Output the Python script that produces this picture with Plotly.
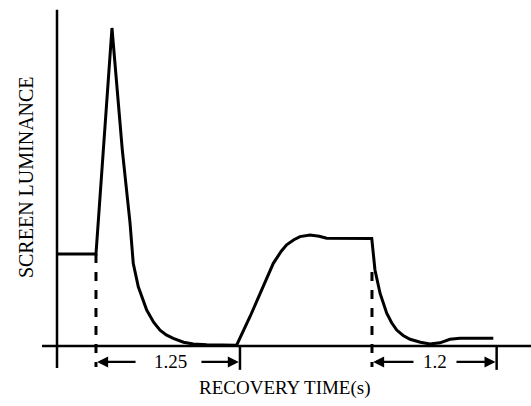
import plotly.graph_objects as go

# Luminance trace (time in s, relative luminance)
time_s = [0.0, 0.339, 0.478, 0.568, 0.635, 0.663, 0.707, 0.745, 0.780, 0.840, 0.896,
          0.950, 1.011, 1.100, 1.185, 1.302, 1.561,
          1.678, 1.794, 1.881, 1.950, 1.997, 2.060, 2.113, 2.200, 2.280, 2.345, 2.737,
          2.750, 2.765, 2.809, 2.867, 2.910, 2.954, 3.010, 3.070, 3.160, 3.243, 3.330,
          3.417, 3.504, 3.794]
luminance = [0.289, 0.289, 1.0, 0.616, 0.387, 0.260, 0.186, 0.145, 0.113, 0.075, 0.050,
             0.035, 0.024, 0.012, 0.006, 0.004, 0.002,
             0.092, 0.186, 0.260, 0.298, 0.318, 0.334, 0.344, 0.349, 0.345, 0.339, 0.338,
             0.292, 0.239, 0.166, 0.103, 0.073, 0.050, 0.033, 0.021, 0.012, 0.006, 0.010,
             0.021, 0.024, 0.024]

# Recovery-interval markers
interval_starts = [0.339, 2.739]
interval_ends = [1.591, 3.823]
interval_labels = ["1.25", "1.2"]
dash_tops = [0.289, 0.233]
label_x = [0.983, 3.287]
left_tails = [0.696, 3.113]
right_tails = [1.243, 3.461]

x_title = "RECOVERY TIME(s)"
y_title = "SCREEN LUMINANCE"

FONT = "Liberation Serif, Times New Roman, serif"
arrow_y = -0.050

fig = go.Figure()
fig.add_trace(go.Scatter(x=time_s, y=luminance, mode="lines",
                         line=dict(color="black", width=3), hoverinfo="skip"))

shapes = []
# axis lines
shapes.append(dict(type="line", xref="x", yref="y", x0=0, x1=0, y0=-0.069, y1=1.057,
                   line=dict(color="black", width=2.5)))
shapes.append(dict(type="line", xref="x", yref="y", x0=-0.13, x1=4.2, y0=0, y1=0,
                   line=dict(color="black", width=2.5)))
for s, e, top in zip(interval_starts, interval_ends, dash_tops):
    shapes.append(dict(type="line", xref="x", yref="y", x0=s, x1=s, y0=top, y1=-0.066,
                       line=dict(color="black", width=3, dash="dash")))
    shapes.append(dict(type="line", xref="x", yref="y", x0=e, x1=e, y0=0, y1=-0.075,
                       line=dict(color="black", width=2.5)))

annotations = []
for s, e, lab, lx, lt, rt in zip(interval_starts, interval_ends, interval_labels,
                                  label_x, left_tails, right_tails):
    annotations.append(dict(x=lx, y=arrow_y, xref="x", yref="y", text=lab, showarrow=False,
                            font=dict(family=FONT, size=19, color="black")))
    annotations.append(dict(x=s + 0.01, y=arrow_y, ax=lt, ay=arrow_y, xref="x", yref="y",
                            axref="x", ayref="y", text="", showarrow=True, arrowhead=2,
                            arrowsize=1, arrowwidth=2.2, arrowcolor="black"))
    annotations.append(dict(x=e - 0.01, y=arrow_y, ax=rt, ay=arrow_y, xref="x", yref="y",
                            axref="x", ayref="y", text="", showarrow=True, arrowhead=2,
                            arrowsize=1, arrowwidth=2.2, arrowcolor="black"))

annotations.append(dict(x=1.983, y=-0.132, xref="x", yref="y", text=x_title, showarrow=False,
                        font=dict(family=FONT, size=19, color="black")))
annotations.append(dict(x=-0.27, y=0.531, xref="x", yref="y", text=y_title, showarrow=False,
                        textangle=-90, font=dict(family=FONT, size=20, color="black")))

fig.update_layout(
    width=531, height=406, autosize=False,
    margin=dict(l=0, r=0, t=0, b=0),
    paper_bgcolor="white", plot_bgcolor="white",
    showlegend=False,
    shapes=shapes, annotations=annotations,
    xaxis=dict(range=[-57/115, 474/115], visible=False, fixedrange=True),
    yaxis=dict(range=[-60/318, 346/318], visible=False, fixedrange=True),
)

fig.write_html("out.html", config={"displayModeBar": False},
               post_script="document.body.style.margin='0';document.body.style.overflow='hidden';")
